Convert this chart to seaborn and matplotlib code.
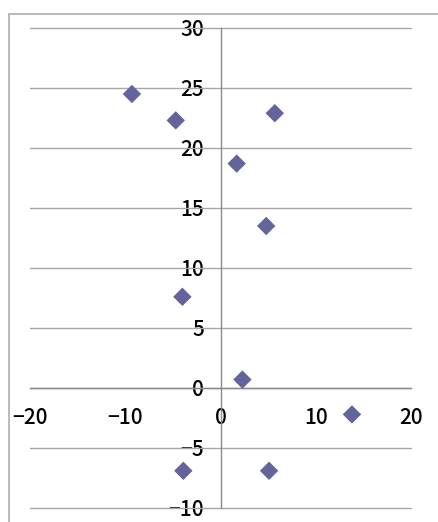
import matplotlib
matplotlib.use("Agg")
import matplotlib.pyplot as plt
from matplotlib.lines import Line2D
import seaborn as sns
import pandas as pd

# Scatter data
x_values = [-9.3, -4.7, 5.7, 1.7, 4.8, -4.0, 2.3, 13.8, -3.9, 5.1]
y_values = [24.5, 22.3, 22.9, 18.7, 13.5, 7.6, 0.7, -2.2, -6.9, -6.9]

x_ticks = [-20, -10, 0, 10, 20]
y_ticks = [-10, -5, 0, 5, 10, 15, 20, 25, 30]

df = pd.DataFrame({"x": x_values, "y": y_values})

sns.set_theme(style="white")
plt.rcParams["font.family"] = ["Noto Sans CJK JP", "DejaVu Sans"]
plt.rcParams["font.weight"] = "medium"
plt.rcParams["axes.unicode_minus"] = True

W, H, DPI = 439, 522, 100
fig = plt.figure(figsize=(W / DPI, H / DPI), dpi=DPI)
fig.patch.set_facecolor("white")

# outer chart-area frame (top and left edges visible)
frame_kw = dict(transform=fig.transFigure, color="#b4b4b4", linewidth=1.3)
fig.add_artist(Line2D([8.5 / W, 1.05], [1 - 13.5 / H] * 2, **frame_kw))
fig.add_artist(Line2D([8.5 / W] * 2, [-0.05, 1 - 13.5 / H], **frame_kw))

ax = fig.add_axes([30 / W, 1 - 508 / H, 381 / W, 480 / H])
ax.set_facecolor("none")

sns.scatterplot(data=df, x="x", y="y", marker="D", s=88, color="#63649b",
                edgecolor="none", linewidth=0, ax=ax, zorder=5, legend=False)

ax.set_xlim(-20, 20)
ax.set_ylim(-10, 30)
ax.set_xticks(x_ticks)
ax.set_yticks(y_ticks)
ax.set_xlabel("")
ax.set_ylabel("")

# horizontal gridlines
for yv in y_ticks:
    ax.axhline(yv, color="#a6a6a6", linewidth=1.0, zorder=1, clip_on=False)

# axes crossing at zero
for side in ("top", "right"):
    ax.spines[side].set_visible(False)
ax.spines["left"].set_position(("data", 0))
ax.spines["bottom"].set_position(("data", 0))
for side in ("left", "bottom"):
    ax.spines[side].set_color("#8a8a8a")
    ax.spines[side].set_linewidth(1.0)
    ax.spines[side].set_zorder(2)

ax.tick_params(axis="both", direction="out", length=5, width=1.0,
               color="#8a8a8a", labelsize=15, labelcolor="black")
ax.tick_params(axis="y", pad=7)
ax.tick_params(axis="x", pad=9)

fig.savefig("out.png", dpi=DPI)
